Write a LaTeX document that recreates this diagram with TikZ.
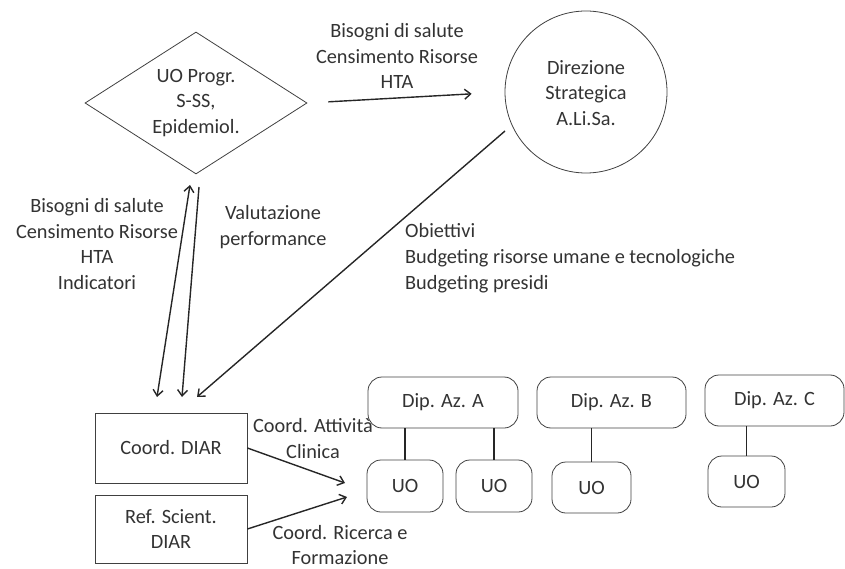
\documentclass[tikz,border=0pt]{standalone}
\usepackage{fontspec}
\setmainfont{Carlito}
\usetikzlibrary{shapes.geometric,arrows.meta}
\begin{document}
\begin{tikzpicture}[x=1pt,y=-1pt,
  every node/.style={font=\fontsize{20.3}{25.8}\selectfont, text=black!80, align=center},
  shp/.style={draw=black!75, line width=0.8pt},
  rbox/.style={shp, rectangle, inner sep=0pt},
  rnd/.style={shp, rectangle, rounded corners=14pt, inner sep=0pt},
  lbl/.style={inner sep=0pt},
  arr/.style={draw=black!85, line width=1.4pt, -{Straight Barb[length=6pt,width=10pt]}},
  darr/.style={draw=black!85, line width=1.4pt, {Straight Barb[length=6pt,width=10pt]}-{Straight Barb[length=6pt,width=10pt]}},
  link/.style={draw=black!85, line width=1.2pt}]
\useasboundingbox (0,0) rectangle (845,569);
% main shapes
\node[shp, diamond, minimum width=222pt, minimum height=142pt, inner sep=0pt] (dia) at (196,103) {};
\node[lbl] (diat) at (196,103) {UO Progr.\\S-SS,\\Epidemiol.};
\node[shp, circle, minimum size=162pt, inner sep=0pt] (dir) at (586,92) {};
\node[lbl] (dirt) at (586,93) {Direzione\\Strategica\\A.Li.Sa.};
\node[rbox, minimum width=152pt, minimum height=70pt] (cd) at (171,448) {Coord. DIAR};
\node[rbox, minimum width=152pt, minimum height=68pt] (rs) at (171,529) {Ref. Scient.\\DIAR};
\node[rnd, minimum width=150pt, minimum height=51pt] (da) at (443,402.5) {Dip. Az. A};
\node[rnd, minimum width=149pt, minimum height=51pt] (db) at (611.5,402.5) {Dip. Az. B};
\node[rnd, minimum width=139pt, minimum height=51pt] (dc) at (774.5,400.5) {Dip. Az. C};
\node[rnd, minimum width=76pt, minimum height=52pt] (u1) at (405,486) {UO};
\node[rnd, minimum width=76pt, minimum height=52pt] (u2) at (494,486) {UO};
\node[rnd, minimum width=79pt, minimum height=51pt] (u3) at (591.5,487.5) {UO};
\node[rnd, minimum width=77pt, minimum height=51pt] (u4) at (746.5,481.5) {UO};
% labels
\node[lbl] (l1) at (397,56) {Bisogni di salute\\Censimento Risorse\\HTA};
\node[lbl] (l2) at (97,244) {Bisogni di salute\\Censimento Risorse\\HTA\\Indicatori};
\node[lbl] (l3) at (273,227) {Valutazione\\performance};
\node[lbl, align=left, anchor=west] (l4) at (405,258) {Obiettivi\\Budgeting risorse umane e tecnologiche\\Budgeting presidi};
\node[lbl] (l5) at (313,438.5) {Coord. Attività\\Clinica};
\node[lbl] (l6) at (340,545) {Coord. Ricerca e\\Formazione};
% connector end points
\coordinate (p1) at (190,185);
\coordinate (p2) at (157,397);
\coordinate (p3) at (199,187);
\coordinate (p4) at (182,397);
\coordinate (p5) at (505,131);
\coordinate (p6) at (197,397);
\coordinate (p7) at (345,483);
\coordinate (p8) at (347,497);
% connectors
\draw[arr, shorten <=21pt, shorten >=33pt] (dia.east) -- (dir.west);
\draw[darr] (p1) -- (p2);
\draw[arr] (p3) -- (p4);
\draw[arr] (p5) -- (p6);
\draw[arr] (cd.east) -- (p7);
\draw[arr] (rs.east) -- (p8);
\draw[link] (da.south -| u1.north) -- (u1.north);
\draw[link] (da.south -| u2.north) -- (u2.north);
\draw[link] (db.south -| u3.north) -- (u3.north);
\draw[link] (dc.south -| u4.north) -- (u4.north);
\end{tikzpicture}
\end{document}
